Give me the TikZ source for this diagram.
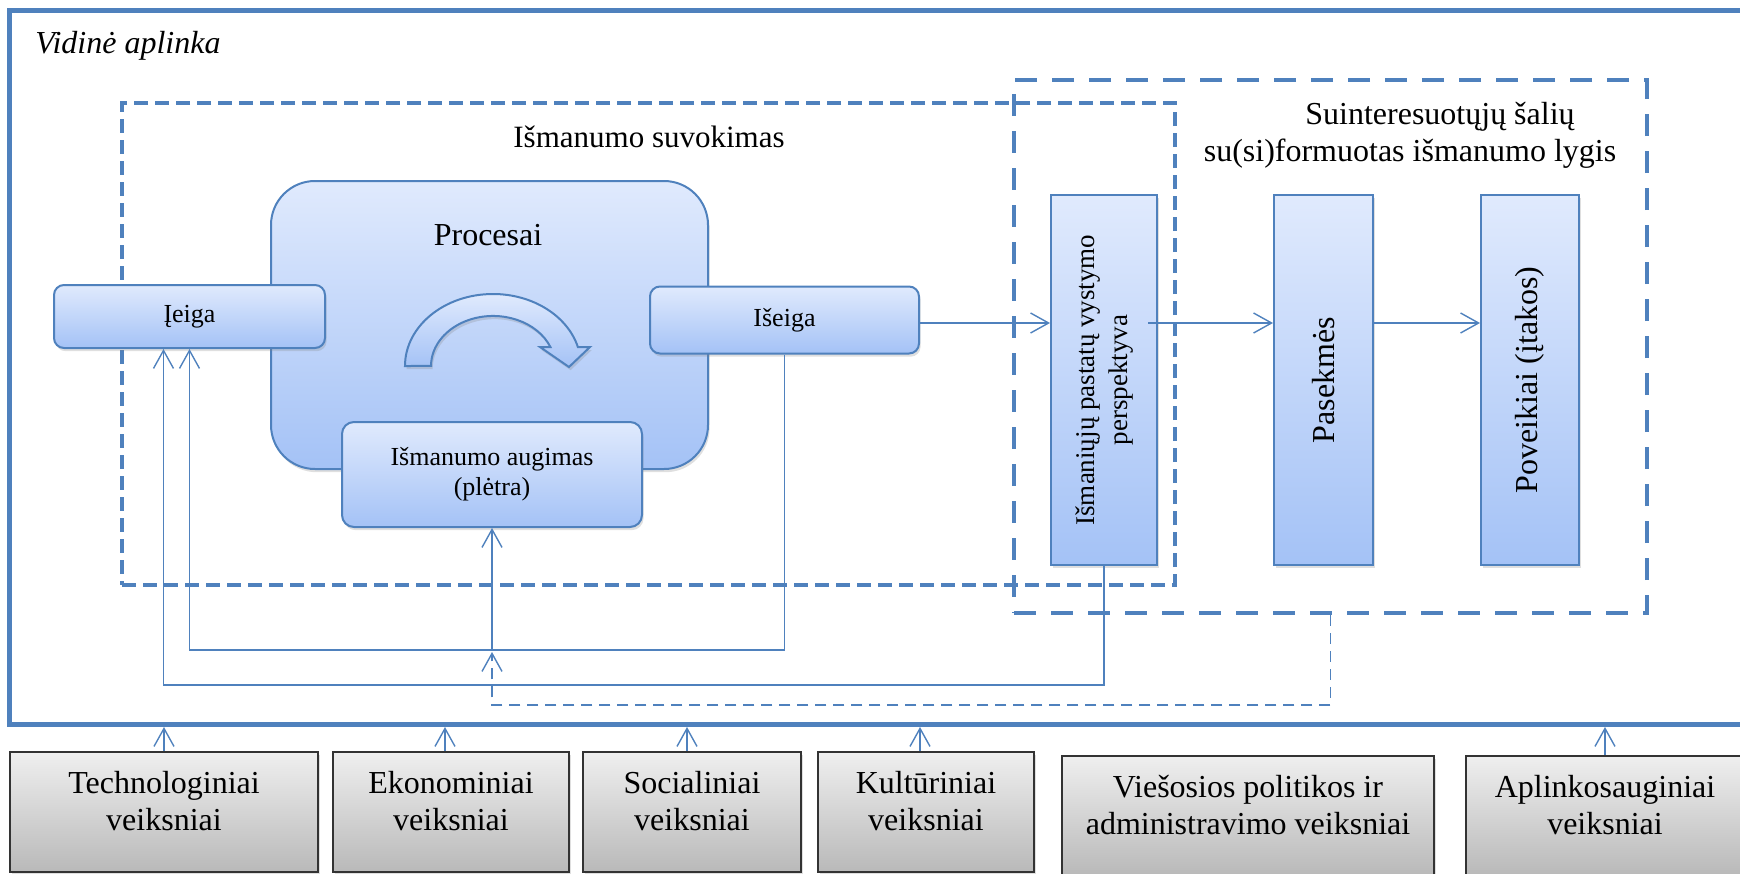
\documentclass[tikz,border=0pt]{standalone}
\usepackage{fontspec}
\usepackage{graphicx}
\setmainfont{Liberation Serif}
\usetikzlibrary{arrows.meta,shadows}

\definecolor{lineblue}{HTML}{4F81BD}
\definecolor{lighttop}{HTML}{E0EAFD}
\definecolor{lightbottom}{HTML}{A4C2F6}
\definecolor{greytop}{HTML}{EFEFEF}
\definecolor{greybottom}{HTML}{B9B9B9}

\tikzset{
  softshadow/.style={drop shadow={opacity=0.25, shadow xshift=0.8pt, shadow yshift=-1.6pt}},
  bluebox/.style={draw=lineblue, line width=1pt, top color=lighttop, bottom color=lightbottom,
    softshadow, inner sep=0pt, align=center},
  factorbox/.style={draw=black!80, line width=1pt, top color=greytop, bottom color=greybottom,
    softshadow, inner sep=0pt, minimum height=60pt},
  factortext/.style={align=center, yshift=5.25pt, font=\fontsize{16}{18.5}\selectfont},
  groupbox/.style={draw=lineblue, line width=2.25pt, inner sep=0pt},
  link/.style={draw=lineblue, line width=0.7pt},
}

\begin{document}
\begin{tikzpicture}[x=0.5pt, y=-0.5pt, >={Straight Barb[length=9pt,width=10pt]}]
\useasboundingbox (0,0) rectangle (1740,873);

% vidine aplinka
\draw[lineblue, line width=2.5pt] (1750,10.5) -- (9,10.5) -- (9,724.5) -- (1750,724.5);
\coordinate (fb) at (0,727);
\coordinate (flow) at (0,323);
\node[anchor=base west, inner sep=0pt, font=\fontsize{16}{19}\selectfont\itshape] (vidine) at (35,53) {Vidinė aplinka};

% dashed groups
\node[groupbox, dash pattern=on 7pt off 3.5pt, minimum width=526.5pt, minimum height=241pt] (suvokimas) at (648.5,344) {};
\node[groupbox, dash pattern=on 11pt off 7.5pt, minimum width=316.5pt, minimum height=266.5pt] (suinter) at (1330.5,346.5) {};
\node[font=\fontsize{15.5}{18}\selectfont] (suvokimastitle) at (649,137) {Išmanumo suvokimas};
\node[align=center, font=\fontsize{16}{18.5}\selectfont] (suintertitle) at (1410,135)
  {\hspace*{30pt}Suinteresuotųjų šalių\\su(si)formuotas išmanumo lygis};

% procesai
\node[bluebox, rounded corners=22pt, minimum width=218.5pt, minimum height=144pt] (procesai) at (489.5,325) {};
\node[font=\fontsize{16}{19}\selectfont] (procesaititle) at (488,235) {Procesai};
\draw[lineblue, line width=1pt, top color=lighttop, bottom color=lightbottom, softshadow]
  (405,366) arc[start angle=180, end angle=344.7, x radius=88, y radius=72]
  -- (590,347) -- (569,367) -- (540,347) -- (550.4,347)
  arc[start angle=337.7, end angle=180, x radius=62, y radius=50] -- cycle;

\node[bluebox, rounded corners=5pt, minimum width=135.5pt, minimum height=31.5pt, font=\fontsize{13}{15.5}\selectfont] (ieiga) at (189.5,316.5) {Įeiga};
\node[bluebox, rounded corners=5pt, minimum width=134.5pt, minimum height=33.5pt, font=\fontsize{13}{15.5}\selectfont] (iseiga) at (784.5,320) {Išeiga};
\node[bluebox, rounded corners=6pt, minimum width=150pt, minimum height=52.5pt, font=\fontsize{13}{15}\selectfont] (augimas) at (492,474.5) {Išmanumo augimas\\(plėtra)};

% rezultatai
\node[bluebox, minimum width=53pt, minimum height=185pt, font=\fontsize{13.5}{16.5}\selectfont] (perspekt) at (1104,380)
  {\rotatebox{90}{\begin{tabular}{@{}c@{}}Išmaniųjų pastatų vystymo\\perspektyva\end{tabular}}};
\node[bluebox, minimum width=49.5pt, minimum height=185pt, font=\fontsize{16}{19}\selectfont] (pasekmes) at (1323.5,380) {\rotatebox{90}{Pasekmės}};
\node[bluebox, minimum width=49pt, minimum height=185pt, font=\fontsize{16}{19}\selectfont] (poveikiai) at (1530,380) {\rotatebox{90}{Poveikiai (įtakos)}};

\draw[link, ->] (iseiga.east |- flow) -- (perspekt.west |- flow);
\draw[link, ->] ([xshift=-5pt]perspekt.east |- flow) -- (pasekmes.west |- flow);
\draw[link, ->] (pasekmes.east |- flow) -- (poveikiai.west |- flow);

% feedback
\draw[link, ->] (iseiga.south) -- (iseiga.south |- 0,650) -| (ieiga.south);
\draw[link, ->] (perspekt.south) -- (perspekt.south |- 0,685) -| ([xshift=-13pt]ieiga.south);
\draw[link, ->] (augimas.south |- 0,650) -- (augimas.south);
\draw[link, ->, dash pattern=on 5.5pt off 3.5pt] (suinter.south) -- (suinter.south |- 0,705) -| (augimas.south |- 0,652);

% isorine aplinka
\node[factorbox, minimum width=154pt, label={[factortext]center:{Technologiniai\\veiksniai}}] (techno) at (164,812) {};
\node[factorbox, minimum width=118pt, label={[factortext]center:{Ekonominiai\\veiksniai}}] (ekonom) at (451,812) {};
\node[factorbox, minimum width=109pt, label={[factortext]center:{Socialiniai\\veiksniai}}] (social) at (692,812) {};
\node[factorbox, minimum width=108pt, label={[factortext]center:{Kultūriniai\\veiksniai}}] (kultur) at (926,812) {};
\node[factorbox, minimum width=186pt, label={[factortext]center:{Viešosios politikos ir\\administravimo veiksniai}}] (viesosios) at (1248,815.5) {};
\node[factorbox, minimum width=139pt, label={[factortext]center:{Aplinkosauginiai\\veiksniai}}] (aplinko) at (1605,815.5) {};

\draw[link, ->] (techno.north) -- (techno.north |- fb);
\draw[link, ->] ([xshift=-3pt]ekonom.north) -- ([xshift=-3pt]ekonom.north |- fb);
\draw[link, ->] ([xshift=-2.5pt]social.north) -- ([xshift=-2.5pt]social.north |- fb);
\draw[link, ->] ([xshift=-3pt]kultur.north) -- ([xshift=-3pt]kultur.north |- fb);
\draw[link, ->] (aplinko.north) -- (aplinko.north |- fb);
\end{tikzpicture}
\end{document}
